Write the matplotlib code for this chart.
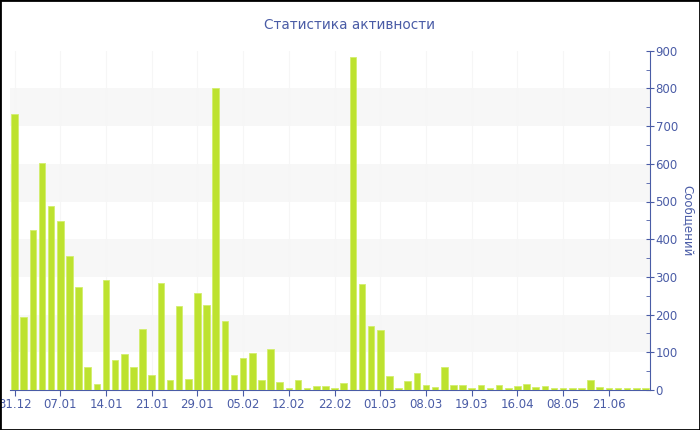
import matplotlib
matplotlib.use("Agg")
import matplotlib.pyplot as plt
from matplotlib.patches import Rectangle
from matplotlib.ticker import MultipleLocator

# messages per active day
values = [733, 193, 424, 603, 487, 447, 355, 274, 60, 15,
          292, 79, 95, 61, 162, 39, 283, 27, 222, 30,
          258, 225, 800, 184, 41, 84, 97, 27, 110, 21,
          4, 26, 5, 11, 10, 5, 19, 882, 281, 171,
          159, 37, 5, 25, 46, 14, 7, 62, 13, 13,
          4, 13, 5, 12, 5, 10, 16, 8, 11, 5,
          4, 4, 4, 26, 8, 4, 4, 4, 4, 4]
tick_labels = ["31.12", "07.01", "14.01", "21.01", "29.01", "05.02", "12.02",
               "22.02", "01.03", "08.03", "19.03", "16.04", "08.05", "21.06"]
tick_step = 5
bands = [(100, 200), (300, 400), (500, 600), (700, 800)]

blue = "#4a5ca6"

fig = plt.figure(figsize=(7, 4.3), dpi=100)
ax = fig.add_axes([10 / 700, 40 / 430, 640 / 700, 339.3 / 430])

for lo, hi in bands:
    ax.axhspan(lo, hi, color="#f7f7f7", zorder=0, lw=0)

x = range(len(values))
ax.bar(x, values, width=0.73, color="#bde22f", edgecolor="#d3ee6e",
       linewidth=0.6, zorder=3)

ticks = [i * tick_step for i in range(len(tick_labels))]
ax.set_xticks(ticks)
ax.set_xticklabels(tick_labels)
for t in ticks:
    ax.axvline(t, color="#f6f6f6", lw=0.8, zorder=1)
ax.set_xlim(-0.5, len(values) - 0.5)
ax.set_ylim(0, 900)

ax.yaxis.tick_right()
ax.yaxis.set_label_position("right")
ax.yaxis.set_major_locator(MultipleLocator(100))
ax.yaxis.set_minor_locator(MultipleLocator(50))
ax.tick_params(axis="y", which="major", direction="inout", length=6,
               color=blue, labelcolor=blue, labelsize=8.5, pad=1)
ax.tick_params(axis="y", which="minor", direction="in", length=3, color=blue)
ax.tick_params(axis="x", direction="out", length=4, color=blue,
               labelcolor=blue, labelsize=8.5, pad=2)
ax.set_ylabel("Сообщений", color=blue, fontsize=8.5, rotation=270,
              labelpad=12)

for side in ["top", "left"]:
    ax.spines[side].set_visible(False)
ax.spines["right"].set_color(blue)
ax.spines["bottom"].set_color(blue)

fig.text(0.5, 1 - 25 / 430, "Статистика активности", ha="center",
         va="center", color=blue, fontsize=9.8)

# frame around the whole picture
fig.patches.append(Rectangle((0, 0), 1, 1, transform=fig.transFigure,
                             fill=False, edgecolor="black", lw=2))

fig.savefig("out.png", dpi=100)
